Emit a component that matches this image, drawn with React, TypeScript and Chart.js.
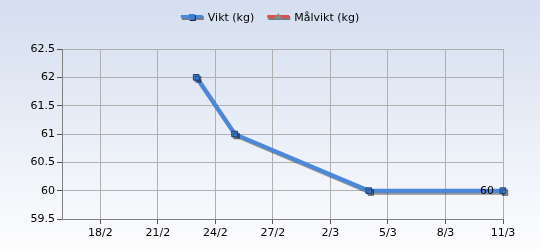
import React, { useEffect, useRef } from "react";
import { Chart, registerables } from "chart.js";

Chart.register(...registerables);

const YEAR = 2023;
const START_DATE = "16/2";
const END_DATE = "11/3";
const xTickLabels = ["18/2", "21/2", "24/2", "27/2", "2/3", "5/3", "8/3", "11/3"];
const yTickValues = [59.5, 60, 60.5, 61, 61.5, 62, 62.5];
const viktDates = ["23/2", "25/2", "4/3", "11/3"];
const viktValues = [62, 61, 60, 60];
const malviktDates: string[] = [];
const malviktValues: number[] = [];
const seriesNames = ["Vikt (kg)", "Målvikt (kg)"];
const seriesColors = ["#4a88dc", "#d9534a"];
const lastLabelText = "60";

function dayNum(s: string): number {
  const [d, m] = s.split("/").map(Number);
  return Date.UTC(YEAR, m - 1, d) / 86400000;
}
const base = dayNum(START_DATE);
const dayOff = (s: string) => dayNum(s) - base;

const FONT = "'DejaVu Sans', Verdana, sans-serif";

export default function App() {
  const ref = useRef<HTMLCanvasElement>(null);
  useEffect(() => {
    const canvas = ref.current!;
    const shadowPlugin = {
      id: "shadow",
      beforeDatasetDraw(chart: any) {
        const ctx = chart.ctx;
        ctx.save();
        ctx.shadowColor = "rgba(0,0,0,0.4)";
        ctx.shadowOffsetX = 2;
        ctx.shadowOffsetY = 2;
        ctx.shadowBlur = 0;
      },
      afterDatasetDraw(chart: any) {
        chart.ctx.restore();
      },
    };
    const labelPlugin = {
      id: "lastLabel",
      afterDatasetsDraw(chart: any) {
        const meta = chart.getDatasetMeta(0);
        const pt = meta.data[meta.data.length - 1];
        if (!pt) return;
        const ctx = chart.ctx;
        ctx.save();
        ctx.font = `11px ${FONT}`;
        ctx.fillStyle = "#000";
        ctx.textAlign = "right";
        ctx.textBaseline = "middle";
        ctx.fillText(lastLabelText, pt.x - 9, pt.y);
        ctx.restore();
      },
    };
    const legendPlugin = {
      id: "customLegend",
      afterDraw(chart: any) {
        const ctx = chart.ctx;
        ctx.save();
        ctx.font = `11px ${FONT}`;
        ctx.textBaseline = "middle";
        const y = 17;
        const lineW = 22;
        const gap = 5;
        const itemGap = 13;
        const widths = seriesNames.map((n) => lineW + gap + ctx.measureText(n).width);
        const total = widths.reduce((a, b) => a + b, 0) + itemGap * (widths.length - 1);
        let x = 270 - total / 2;
        seriesNames.forEach((name, i) => {
          ctx.fillStyle = "rgba(0,0,0,0.45)";
          ctx.fillRect(x + 1, y - 1, lineW, 4);
          ctx.fillStyle = seriesColors[i];
          ctx.fillRect(x, y - 2, lineW, 3);
          const cx = x + lineW / 2;
          if (i === 0) {
            ctx.fillStyle = "#222";
            ctx.fillRect(cx - 2, y - 2, 6, 6);
            ctx.fillStyle = "#3d7fd8";
            ctx.fillRect(cx - 3, y - 3, 6, 6);
          } else {
            ctx.fillStyle = "#888";
            ctx.beginPath();
            ctx.moveTo(cx, y - 4);
            ctx.lineTo(cx + 4, y + 2);
            ctx.lineTo(cx - 4, y + 2);
            ctx.closePath();
            ctx.fill();
          }
          ctx.fillStyle = "#000";
          ctx.textAlign = "left";
          ctx.fillText(name, x + lineW + gap, y + 1);
          x += widths[i] + itemGap;
        });
        ctx.restore();
      },
    };
    const chart = new Chart(canvas, {
      type: "line",
      data: {
        datasets: [
          {
            label: seriesNames[0],
            data: viktDates.map((d, i) => ({ x: dayOff(d), y: viktValues[i] })),
            borderColor: seriesColors[0],
            backgroundColor: "#3d7fd8",
            borderWidth: 4,
            pointStyle: "rect",
            pointRadius: 4,
            pointBorderColor: "#1c3f73",
            pointBorderWidth: 1,
            pointBackgroundColor: "#3d7fd8",
            tension: 0,
            clip: false as any,
          },
          {
            label: seriesNames[1],
            data: malviktDates.map((d, i) => ({ x: dayOff(d), y: malviktValues[i] })),
            borderColor: seriesColors[1],
            borderWidth: 4,
            pointStyle: "triangle",
          },
        ],
      },
      options: {
        animation: false,
        responsive: false,
        layout: { padding: { top: 49, right: 37, left: 0, bottom: 0 } },
        plugins: { legend: { display: false }, tooltip: { enabled: false } },
        scales: {
          x: {
            type: "linear",
            min: 0,
            max: dayOff(END_DATE),
            afterBuildTicks(scale: any) {
              scale.ticks = xTickLabels.map((l) => ({ value: dayOff(l) }));
            },
            afterFit(scale: any) {
              scale.height = 31;
            },
            ticks: {
              autoSkip: false,
              maxRotation: 0,
              padding: 3,
              color: "#000",
              font: { family: FONT, size: 11 },
              callback: (_v: any, i: number) => xTickLabels[i],
            },
            grid: {
              color: "#b0b0b0",
              tickColor: "#555",
              tickLength: 5,
              lineWidth: 1,
            },
            border: { color: "#808080", width: 1 },
          },
          y: {
            type: "linear",
            min: yTickValues[0],
            max: yTickValues[yTickValues.length - 1],
            afterBuildTicks(scale: any) {
              scale.ticks = yTickValues.map((v) => ({ value: v }));
            },
            afterFit(scale: any) {
              scale.width = 62;
            },
            ticks: {
              padding: 2,
              color: "#000",
              font: { family: FONT, size: 11 },
              callback: (v: any) => String(v),
            },
            grid: {
              color: "#b0b0b0",
              tickColor: "#555",
              tickLength: 5,
              lineWidth: 1,
            },
            border: { color: "#808080", width: 1 },
          },
        },
      },
      plugins: [shadowPlugin, labelPlugin, legendPlugin],
    } as any);
    return () => chart.destroy();
  }, []);
  return (
    <div
      style={{
        position: "fixed",
        left: 0,
        top: 0,
        width: 540,
        height: 250,
        background: "linear-gradient(to bottom, #d4deef 0%, #fdfdfe 100%)",
      }}
    >
      <canvas ref={ref} width={540} height={250} style={{ display: "block" }} />
    </div>
  );
}
